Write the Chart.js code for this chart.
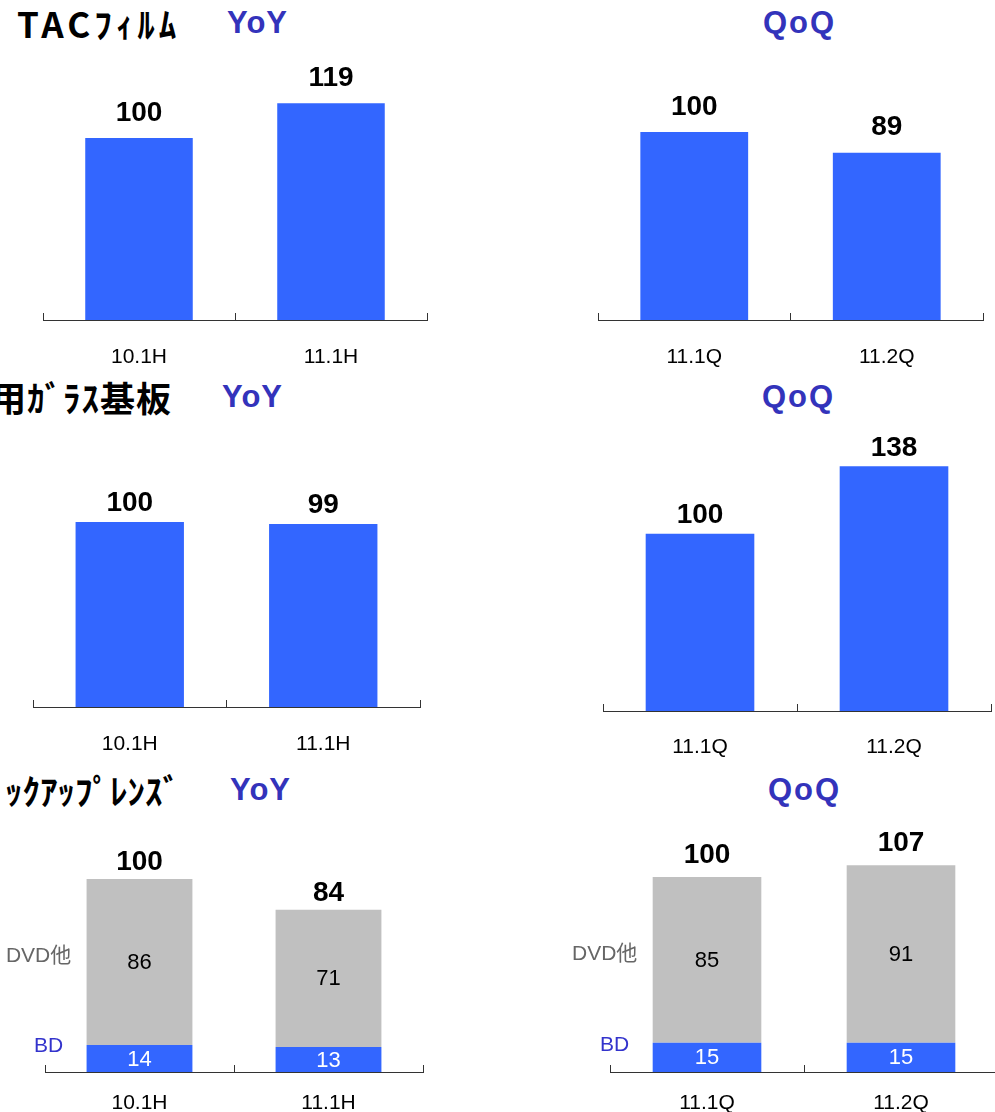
<!DOCTYPE html>
<html>
<head>
<meta charset="utf-8">
<script src="https://cdn.jsdelivr.net/npm/chart.js@4/dist/chart.umd.min.js"></script>
<style>
html, body { margin: 0; padding: 0; background: #fff; overflow: hidden; }
body { width: 995px; height: 1112px; position: relative; }
canvas { position: absolute; }
.ttl { position: absolute; white-space: nowrap; line-height: 1; transform: translateY(-50%);
       font-family: "Noto Sans CJK JP", sans-serif; font-weight: bold; font-size: 35px; color: #000; letter-spacing: 1px; }
.ttl.r { text-align: right; }
.tag { position: absolute; white-space: nowrap; line-height: 1; transform: translateY(-50%);
       font-family: "Liberation Sans", Arial, sans-serif; font-weight: bold; font-size: 31px; color: #3333bb; letter-spacing: 1px; }
</style>
</head>
<body>

<div class="ttl" style="left:17px; top:22px; letter-spacing:4px;">TACﾌｨﾙﾑ</div>
<div class="tag" style="left:227px; top:22px;">YoY</div>
<div class="tag" style="left:763px; top:22px; letter-spacing:2px;">QoQ</div>

<div class="ttl r" style="right:823px; top:396px;">用ｶﾞﾗｽ基板</div>
<div class="tag" style="left:222px; top:396px;">YoY</div>
<div class="tag" style="left:762px; top:396px; letter-spacing:2px;">QoQ</div>

<div class="ttl r" style="right:815px; top:789px; letter-spacing:0px;">ｯｸｱｯﾌﾟﾚﾝｽﾞ</div>
<div class="tag" style="left:230px; top:789px;">YoY</div>
<div class="tag" style="left:768px; top:789px; letter-spacing:2px;">QoQ</div>

<canvas id="tacYoyChart" width="394" height="352" style="left:38px; top:20px;"></canvas>
<canvas id="tacQoqChart" width="395" height="352" style="left:593px; top:20px;"></canvas>
<canvas id="glassYoyChart" width="397" height="352" style="left:28px; top:407px;"></canvas>
<canvas id="glassQoqChart" width="398" height="352" style="left:598px; top:411px;"></canvas>
<canvas id="lensYoyChart" width="428" height="340" style="left:0px; top:772px;"></canvas>
<canvas id="lensQoqChart" width="448" height="340" style="left:555px; top:772px;"></canvas>

<script>
// ==============================
// Data
// ==============================

const yoyLabels = ["10.1H", "11.1H"];
const qoqLabels = ["11.1Q", "11.2Q"];

const tacYoy = [100, 119];
const tacQoq = [100, 89];

const glassYoy = [100, 99];
const glassQoq = [100, 138];

const lensSeries = ["BD", "DVD他"];
const lensYoyBd = [14, 13];
const lensYoyDvd = [86, 71];
const lensYoyTotal = [100, 84];
const lensQoqBd = [15, 15];
const lensQoqDvd = [85, 91];
const lensQoqTotal = [100, 107];

const BLUE = "#3366ff";
const GRAY = "#c0c0c0";

// ==============================
// Labels plugin
// ==============================

const barLabels = {
    id: "barLabels",
    afterDatasetsDraw(chart, args, opts) {
        const ctx = chart.ctx;
        const sets = chart.data.datasets;
        const topMeta = chart.getDatasetMeta(sets.length - 1);

        ctx.save();
        ctx.textAlign = "center";
        ctx.textBaseline = "middle";

        // totals over the bars
        ctx.font = "bold 28px 'Liberation Sans', Arial, sans-serif";
        ctx.fillStyle = "#000";
        topMeta.data.forEach((bar, i) => {
            ctx.fillText(String(opts.totals[i]), bar.x, bar.y - opts.gap);
        });

        // values inside stacked segments + series names
        if (opts.stacked) {
            sets.forEach((ds, d) => {
                const meta = chart.getDatasetMeta(d);
                ctx.font = "22px 'Liberation Sans', Arial, sans-serif";
                ctx.fillStyle = opts.valueColors[d];
                meta.data.forEach((bar, i) => {
                    ctx.fillText(String(ds.data[i]), bar.x, (bar.y + bar.base) / 2 + 1);
                });

                const first = meta.data[0];
                ctx.font = "21px 'Liberation Sans', 'Noto Sans CJK JP', sans-serif";
                ctx.fillStyle = opts.nameColors[d];
                ctx.fillText(ds.label, first.x - first.width / 2 + opts.nameDx[d],
                    (first.y + first.base) / 2 + opts.nameDy[d]);
            });
        }

        ctx.restore();
    }
};

// ==============================
// Chart builder
// ==============================

function makeChart(id, labels, datasets, cfg) {
    new Chart(document.getElementById(id), {
        type: "bar",
        data: { labels: labels, datasets: datasets },
        options: {
            responsive: false,
            animation: false,
            devicePixelRatio: 1,
            layout: { padding: { left: cfg.padLeft, right: 5, top: 0, bottom: 0 } },
            datasets: {
                bar: { barPercentage: 1, categoryPercentage: 0.56 }
            },
            scales: {
                x: {
                    stacked: !!cfg.stacked,
                    offset: true,
                    grid: {
                        display: true,
                        offset: true,
                        drawOnChartArea: false,
                        drawTicks: true,
                        tickLength: -7,
                        color: "#333",
                        lineWidth: 1
                    },
                    border: { display: true, color: "#333", width: 1 },
                    ticks: {
                        color: "#000",
                        padding: cfg.tickPad,
                        font: { family: "'Liberation Sans', Arial, sans-serif", size: 21 }
                    },
                    afterFit(scale) { scale.height = cfg.xh; }
                },
                y: {
                    display: false,
                    stacked: !!cfg.stacked,
                    min: 0,
                    max: cfg.yMax
                }
            },
            plugins: {
                legend: { display: false },
                tooltip: { enabled: false },
                barLabels: cfg.labels
            }
        },
        plugins: [barLabels]
    });
}

function single(values) {
    return [{ data: values, backgroundColor: BLUE, borderWidth: 0 }];
}

function lens(bd, dvd) {
    return [
        { label: lensSeries[0], data: bd, backgroundColor: BLUE, borderWidth: 0 },
        { label: lensSeries[1], data: dvd, backgroundColor: GRAY, borderWidth: 0 }
    ];
}

// ==============================
// TAC film
// ==============================

makeChart("tacYoyChart", yoyLabels, single(tacYoy),
    { padLeft: 5, yMax: 164.8, xh: 52, tickPad: 32, labels: { totals: tacYoy, gap: 25 } });

makeChart("tacQoqChart", qoqLabels, single(tacQoq),
    { padLeft: 5, yMax: 159.6, xh: 52, tickPad: 32, labels: { totals: tacQoq, gap: 25 } });

// ==============================
// Glass substrate
// ==============================

makeChart("glassYoyChart", yoyLabels, single(glassYoy),
    { padLeft: 5, yMax: 162.2, xh: 52, tickPad: 32, labels: { totals: glassYoy, gap: 19 } });

makeChart("glassQoqChart", qoqLabels, single(glassQoq),
    { padLeft: 5, yMax: 169.2, xh: 52, tickPad: 31, labels: { totals: glassQoq, gap: 18 } });

// ==============================
// Pickup lens (stacked)
// ==============================

const lensLabelOpts = {
    stacked: true,
    valueColors: ["#fff", "#000"],
    nameColors: ["#3333cc", "#666"],
    nameDx: [-38, -48],
    nameDy: [-12, -6]
};

makeChart("lensYoyChart", yoyLabels, lens(lensYoyBd, lensYoyDvd),
    { stacked: true, padLeft: 45, yMax: 155.4, xh: 40, tickPad: 26,
      labels: Object.assign({ totals: lensYoyTotal, gap: 17 }, lensLabelOpts) });

makeChart("lensQoqChart", qoqLabels, lens(lensQoqBd, lensQoqDvd),
    { stacked: true, padLeft: 55, yMax: 153.8, xh: 40, tickPad: 26,
      labels: Object.assign({ totals: lensQoqTotal, gap: 22 }, lensLabelOpts) });
</script>
</body>
</html>
